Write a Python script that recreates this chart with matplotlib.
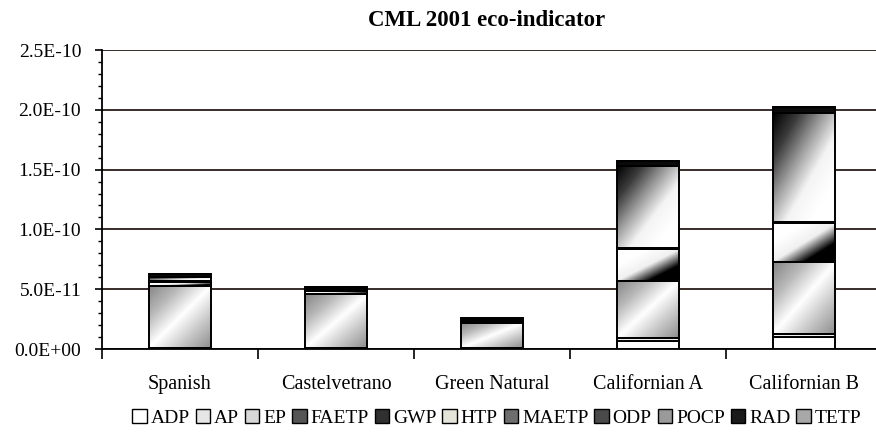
import numpy as np
import matplotlib
matplotlib.use('Agg')
import matplotlib.pyplot as plt
from matplotlib.patches import Patch
from matplotlib.colors import LinearSegmentedColormap

plt.rcParams['font.family'] = ['Liberation Serif', 'DejaVu Serif']

# Data (values in units of 1E-11)
sites = ['Spanish', 'Castelvetrano', 'Green Natural', 'Californian A', 'Californian B']
categories = ['ADP', 'AP', 'EP', 'FAETP', 'GWP', 'HTP', 'MAETP', 'ODP', 'POCP', 'RAD', 'TETP']

ADP   = [0.05, 0.05, 0.05, 0.67, 0.98]
AP    = [0.02, 0.02, 0.02, 0.25, 0.25]
EP    = [5.20, 4.50, 2.10, 4.79, 6.02]
FAETP = [0.00, 0.00, 0.00, 0.00, 0.00]
GWP   = [0.30, 0.25, 0.15, 2.65, 3.25]
HTP   = [0.15, 0.10, 0.08, 0.05, 0.14]
MAETP = [0.30, 0.18, 0.12, 6.88, 9.06]
ODP   = [0.00, 0.00, 0.00, 0.00, 0.00]
POCP  = [0.00, 0.00, 0.00, 0.00, 0.00]
RAD   = [0.26, 0.10, 0.08, 0.42, 0.50]
TETP  = [0.00, 0.00, 0.00, 0.00, 0.00]

y_ticks = [0, 5e-11, 1e-10, 1.5e-10, 2e-10, 2.5e-10]
y_labels = ['0.0E+00', '5.0E-11', '1.0E-10', '1.5E-10', '2.0E-10', '2.5E-10']

series = [ADP, AP, EP, FAETP, GWP, HTP, MAETP, ODP, POCP, RAD, TETP]

# fill styles: either a solid colour or a diagonal gradient colormap
grad = {
    'EP': ['#858585', '#b8b8b8', '#ffffff', '#c4c4c4', '#8c8c8c'],
    'GWP': ['#ffffff', '#ffffff', '#f0f0f0', '#000000', '#000000'],
    'MAETP': ['#000000', '#3a3a3a', '#9a9a9a', '#f4f4f4', '#ffffff', '#ffffff'],
}
solid = {
    'ADP': '#ffffff', 'AP': '#eeeeee', 'FAETP': '#555555', 'HTP': '#e4e4e4',
    'ODP': '#444444', 'POCP': '#999999', 'RAD': '#0a0a0a', 'TETP': '#aaaaaa',
}
legend_col = {
    'ADP': '#ffffff', 'AP': '#e6e6e6', 'EP': '#d8d8d8', 'FAETP': '#555555',
    'GWP': '#303030', 'HTP': '#e4e4d8', 'MAETP': '#6e6e6e', 'ODP': '#4a4a4a',
    'POCP': '#9a9a9a', 'RAD': '#1a1a1a', 'TETP': '#a8a8a8',
}

fig = plt.figure(figsize=(8.76, 4.32), dpi=100)
ax = fig.add_axes([0.1164, 0.1921, 0.8904, 0.6921])

x = np.arange(len(sites))
width = 0.40
N = 120
uu, vv = np.meshgrid(np.linspace(0, 1, N), np.linspace(0, 1, N))
tt = (uu - vv + 1) / 2

bottom = np.zeros(len(sites))
for name, vals in zip(categories, series):
    vals = np.array(vals) * 1e-11
    if name in grad:
        bars = ax.bar(x, vals, width, bottom=bottom, facecolor='none',
                      edgecolor='black', linewidth=1.4, zorder=3)
        cmap = LinearSegmentedColormap.from_list(name, grad[name])
        for b in bars:
            if b.get_height() <= 0:
                continue
            x0, y0 = b.get_x(), b.get_y()
            im = ax.imshow(tt, cmap=cmap, origin='lower', aspect='auto',
                           extent=(x0, x0 + b.get_width(), y0, y0 + b.get_height()),
                           zorder=2, interpolation='bilinear')
            im.set_clip_path(b)
    else:
        ax.bar(x, vals, width, bottom=bottom, color=solid[name],
               edgecolor='black', linewidth=1.4, zorder=3)
    bottom += vals

ax.set_xlim(-0.5, len(sites) - 0.5)
ax.set_ylim(0, 2.5e-10)

ax.set_yticks(y_ticks)
ax.set_yticklabels(y_labels, fontsize=14)
ax.set_yticks(np.arange(0, 2.51e-10, 1e-11), minor=True)
ax.tick_params(axis='y', which='major', length=5, width=1.2, direction='out', pad=10)
ax.tick_params(axis='y', which='minor', length=3, width=1.0, direction='out')

ax.set_xticks(x)
ax.set_xticklabels(sites, fontsize=14.5)
ax.set_xticks(np.arange(-0.5, len(sites), 1.0), minor=True)
ax.tick_params(axis='x', which='major', length=0, pad=19)
ax.tick_params(axis='x', which='minor', length=7, width=1.2, direction='out')

ax.yaxis.grid(True, which='major', color='#2a1c18', linewidth=1.3)
ax.set_axisbelow(True)
for s in ['top', 'right']:
    ax.spines[s].set_visible(False)
ax.spines['left'].set_linewidth(1.3)
ax.spines['bottom'].set_linewidth(1.3)

fig.text(0.556, 0.952, 'CML 2001 eco-indicator', ha='center', va='center',
         fontsize=16.5, fontweight='bold')

handles = [Patch(facecolor=legend_col[c], edgecolor='black', linewidth=1.0, label=c)
           for c in categories]
fig.legend(handles=handles, loc='center', bbox_to_anchor=(0.567, 0.033), ncol=11,
           frameon=False, fontsize=14, handlelength=0.75, handleheight=0.75,
           handletextpad=0.2, columnspacing=0.3, borderaxespad=0)

fig.savefig('out.png', dpi=100, facecolor='white')
